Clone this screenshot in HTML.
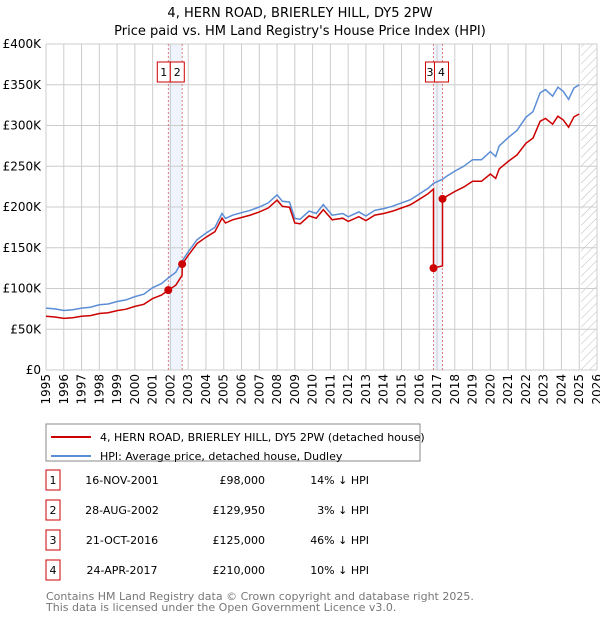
<!DOCTYPE html>
<html><head><meta charset="utf-8"><style>
body{margin:0;background:#fff;font-family:"Liberation Sans","DejaVu Sans",sans-serif;}
svg text{font-family:"DejaVu Sans","Liberation Sans",sans-serif;}
</style></head><body>
<svg id="c" width="600" height="620" xmlns="http://www.w3.org/2000/svg">
<defs><pattern id="hatch" width="6" height="6" patternUnits="userSpaceOnUse" patternTransform="rotate(45)"><line x1="0" y1="0" x2="0" y2="6" stroke="#bbb" stroke-width="1"/></pattern></defs>
<text x="300" y="17" text-anchor="middle" font-size="13" fill="#000">4, HERN ROAD, BRIERLEY HILL, DY5 2PW</text>
<text x="300" y="35" text-anchor="middle" font-size="13" fill="#000">Price paid vs. HM Land Registry's House Price Index (HPI)</text>
<g id="grid"></g><g id="marks"></g><g id="axes"></g>
<rect x="46" y="424" width="374" height="37" fill="#fff" stroke="#888"/>
<line x1="51" y1="437" x2="91" y2="437" stroke="#cc0000" stroke-width="2"/>
<text x="100" y="441" font-size="11">4, HERN ROAD, BRIERLEY HILL, DY5 2PW (detached house)</text>
<line x1="51" y1="456" x2="91" y2="456" stroke="#5b8dd6" stroke-width="2"/>
<text x="100" y="460" font-size="11">HPI: Average price, detached house, Dudley</text>
<g id="table" font-size="11"></g>
<text x="46" y="600" font-size="11" fill="#777">Contains HM Land Registry data © Crown copyright and database right 2025.</text>
<text x="46" y="611" font-size="11" fill="#777">This data is licensed under the Open Government Licence v3.0.</text>
</svg>
<script>
const hpiYears=[1995,1995.5,1996,1996.5,1997,1997.5,1998,1998.5,1999,1999.5,2000,2000.5,2001,2001.5,2001.88,2002.3,2002.66,2003,2003.5,2004,2004.5,2004.9,2005.1,2005.5,2006,2006.5,2007,2007.5,2008,2008.3,2008.7,2009,2009.3,2009.8,2010.2,2010.6,2011.1,2011.7,2012,2012.6,2013,2013.5,2014,2014.5,2015,2015.5,2016,2016.5,2016.8,2017,2017.31,2017.5,2018,2018.5,2019,2019.5,2020,2020.3,2020.5,2021,2021.5,2022,2022.4,2022.8,2023.1,2023.5,2023.8,2024.1,2024.4,2024.7,2025];
const hpiValues=[76,75,73,74,76,77,80,81,84,86,90,93,101,106,113,120,134,145,160,168,175,192,186,190,193,196,200,205,215,207,206,186,185,195,192,203,190,192,188,194,189,196,198,201,205,209,216,223,229,231,234,237,244,250,258,258,268,262,275,285,294,310,317,340,344,336,347,342,332,346,350];
const saleLabels=["1","2","3","4"];
const saleDates=[2001.88,2002.66,2016.8,2017.31];
const salePrices=[98,129.95,125,210];
const saleDateText=["16-NOV-2001","28-AUG-2002","21-OCT-2016","24-APR-2017"];
const salePriceText=["£98,000","£129,950","£125,000","£210,000"];
const saleHpiText=["14% ↓ HPI","3% ↓ HPI","46% ↓ HPI","10% ↓ HPI"];
const yTicks=[0,50,100,150,200,250,300,350,400];
const yTickLabels=["£0","£50K","£100K","£150K","£200K","£250K","£300K","£350K","£400K"];
const xTicks=[1995,1996,1997,1998,1999,2000,2001,2002,2003,2004,2005,2006,2007,2008,2009,2010,2011,2012,2013,2014,2015,2016,2017,2018,2019,2020,2021,2022,2023,2024,2025,2026];

const L=46,R=597,T=44,B=370;
const X=y=>L+(y-1995)/(2026-1995)*(R-L);
const Y=v=>B-v/400*(B-T);
const NS="http://www.w3.org/2000/svg";
function mk(tag,attrs,parent){const e=document.createElementNS(NS,tag);for(const k in attrs)e.setAttribute(k,attrs[k]);parent.appendChild(e);return e;}
function hpiAt(t){for(let i=0;i<hpiYears.length-1;i++){if(t>=hpiYears[i]&&t<=hpiYears[i+1]){const f=(t-hpiYears[i])/(hpiYears[i+1]-hpiYears[i]);return hpiValues[i]+f*(hpiValues[i+1]-hpiValues[i]);}}return hpiValues[hpiValues.length-1];}
const grid=document.getElementById('grid'),marks=document.getElementById('marks'),axes=document.getElementById('axes'),table=document.getElementById('table');
mk('rect',{x:L,y:T,width:R-L,height:B-T,fill:'#fff'},grid);
let b=mk('rect',{x:X(saleDates[0]),y:T,width:X(saleDates[1])-X(saleDates[0]),height:B-T,fill:'#eef3fc'},grid);


b=mk('rect',{x:X(saleDates[2]),y:T,width:X(saleDates[3])-X(saleDates[2]),height:B-T,fill:'#eef3fc'},grid);


let h=mk('rect',{x:X(2025.1),y:T,width:R-X(2025.1),height:B-T,fill:'url(#hatch)'},grid);


yTicks.forEach((v,i)=>{
 let g=mk('line',{x1:L,x2:R,y1:Y(v),y2:Y(v),stroke:'#ccc'},grid);
 
 
 let t=mk('text',{x:L-5,y:Y(v)+4,'text-anchor':'end','font-size':12},axes);t.textContent=yTickLabels[i];
 
 
});
xTicks.forEach(y=>{
 let g=mk('line',{x1:X(y),x2:X(y),y1:T,y2:B,stroke:'#ccc'},grid);
 
 
 let t=mk('text',{transform:`translate(${X(y)+4},${B+4}) rotate(-90)`,'text-anchor':'end','font-size':12},axes);t.textContent=y;
 
 
});
saleDates.forEach(d=>{let l=mk('line',{x1:X(d),x2:X(d),y1:T,y2:B,stroke:'#e06060','stroke-dasharray':'2,2','stroke-width':0.8},grid);
 
 });
let pts=hpiYears.map((y,i)=>X(y).toFixed(1)+','+Y(hpiValues[i]).toFixed(1)).join(' ');
let hl=mk('polyline',{points:pts,fill:'none',stroke:'#5b8dd6','stroke-width':1.5},marks);


const scale=t=>{let k=0;for(let i=0;i<saleDates.length;i++)if(t>=saleDates[i])k=i;return salePrices[k]/hpiAt(saleDates[k]);};
let times=[...hpiYears];saleDates.forEach(d=>{times.push(d-0.001);times.push(d);});times.sort((a,b)=>a-b);
let rp=times.map(t=>X(t).toFixed(1)+','+Y(hpiAt(t)*scale(t)).toFixed(1)).join(' ');
let rl=mk('polyline',{points:rp,fill:'none',stroke:'#cc0000','stroke-width':1.5},marks);


saleDates.forEach((d,i)=>{
 let c=mk('circle',{cx:X(d),cy:Y(salePrices[i]),r:4,fill:'#cc0000'},marks);
 
 
});
const boxX=[X(saleDates[0])-11,X(saleDates[0])+2,X(saleDates[2])-8,X(saleDates[2])+1];
const boxW=[13,14,9,14];
saleLabels.forEach((s,i)=>{
 let r=mk('rect',{x:boxX[i],y:62,width:boxW[i],height:20,fill:'#fff',stroke:'#cc0000'},marks);
 
 
 let t=mk('text',{x:boxX[i]+boxW[i]/2,y:76,'text-anchor':'middle','font-size':11},marks);t.textContent=s;
 
 
});
saleLabels.forEach((s,i)=>{
 const y=483+i*30;
 let r=mk('rect',{x:46,y:y-13,width:14,height:20,fill:'#fff',stroke:'#cc0000'},table);
 
 
 let t=mk('text',{x:53,y:y+1,'text-anchor':'middle'},table);t.textContent=s;
 
 
 t=mk('text',{x:122,y:y+1,'text-anchor':'middle'},table);t.textContent=saleDateText[i];
 
 
 t=mk('text',{x:265,y:y+1,'text-anchor':'end'},table);t.textContent=salePriceText[i];
 
 
 t=mk('text',{x:369,y:y+1,'text-anchor':'end'},table);t.textContent=saleHpiText[i];
 
 
});
</script>
</body></html>
